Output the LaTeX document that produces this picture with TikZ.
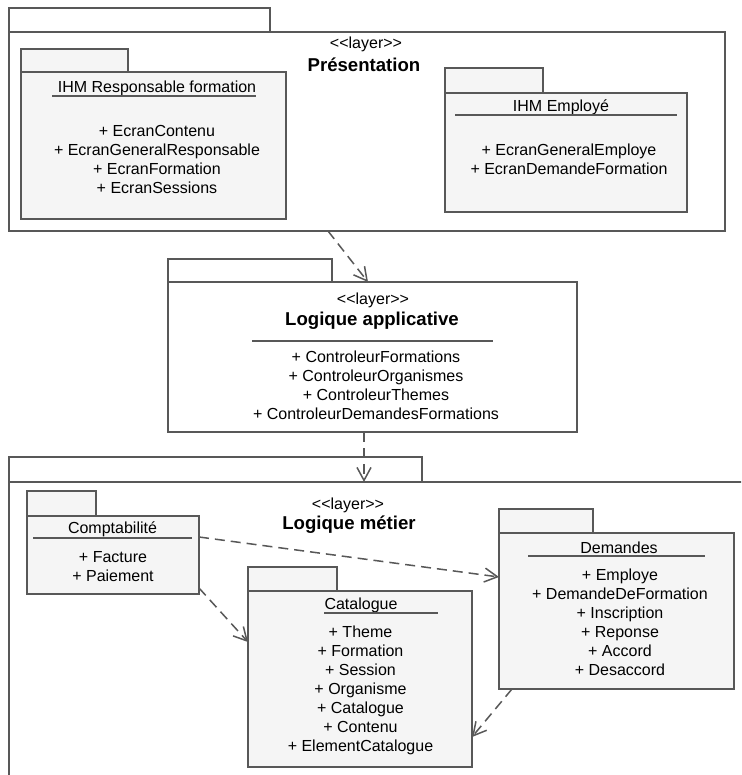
\documentclass[tikz,border=0pt]{standalone}
\usepackage{fontspec}
\setmainfont{Liberation Sans}
\usetikzlibrary{arrows.meta}
\definecolor{edge}{RGB}{88,88,88}
\definecolor{pkgfill}{RGB}{245,245,245}
\newcommand{\layerlabel}{<{}<layer>{}>}
\begin{document}
\begin{tikzpicture}[x=1pt,y=-1pt,
  every node/.style={inner sep=0pt, outer sep=0pt},
  txt/.style={font=\fontsize{16}{19}\selectfont, align=center, text=black},
  ttl/.style={font=\fontsize{18.6}{22}\selectfont\bfseries, text=black},
  pkgbase/.style={draw=edge, line width=1.5pt, rectangle, inner sep=0pt, outer sep=0pt},
  layerbody/.style={pkgbase, fill=white, anchor=north west},
  layertab/.style={pkgbase, fill=white, anchor=south west},
  pkgbody/.style={pkgbase, fill=pkgfill, anchor=north west},
  pkgtab/.style={pkgbase, fill=pkgfill, anchor=south west},
  uline/.style={draw=edge, line width=1.5pt},
  dep/.style={draw=edge, line width=1.5pt, dash pattern=on 10pt off 6pt,
    -{Straight Barb[length=13pt,width=14pt,line width=1.5pt]}}
]
\useasboundingbox (0,0) rectangle (741,775);
\clip (0,0) rectangle (741,775);
\fill[white] (0,0) rectangle (741,775);

% Presentation layer
\node[layerbody, minimum width=716pt, minimum height=199pt] (pres) at (9,32) {};
\node[layertab, minimum width=261pt, minimum height=24pt] (prestab) at (pres.north west) {};
\node[txt] (preslayer) at (366,44) {\layerlabel};
\node[ttl] (prestitle) at (364,65) {Présentation};

% IHM Responsable formation
\node[pkgbody, minimum width=265pt, minimum height=147pt] (ihmr) at (21,72) {};
\node[pkgtab, minimum width=107pt, minimum height=23pt] (ihmrtab) at (ihmr.north west) {};
\node[txt] (ihmrtitle) at (157,88) {IHM Responsable formation};
\draw[uline] (52,96) -- (256,96);
\node[txt] (ihmritems) at (157,159) {+ EcranContenu\\+ EcranGeneralResponsable\\+ EcranFormation\\+ EcranSessions};

% IHM Employe
\node[pkgbody, minimum width=242pt, minimum height=119pt] (ihme) at (445,93) {};
\node[pkgtab, minimum width=98pt, minimum height=25pt] (ihmetab) at (ihme.north west) {};
\node[txt] (ihmetitle) at (561,107) {IHM Employé};
\draw[uline] (455,115) -- (677,115);
\node[txt] (ihmeitems) at (569,159) {+ EcranGeneralEmploye\\+ EcranDemandeFormation};

% Logique applicative
\node[layerbody, minimum width=409pt, minimum height=150pt] (logapp) at (168,282) {};
\node[layertab, minimum width=164pt, minimum height=23pt] (logapptab) at (logapp.north west) {};
\node[txt] (logapplayer) at (373,300) {\layerlabel};
\node[ttl] (logapptitle) at (372,321) {Logique applicative};
\draw[uline] (252,341) -- (493,341);
\node[txt] (logappitems) at (376,385.5) {+ ControleurFormations\\+ ControleurOrganismes\\+ ControleurThemes\\+ ControleurDemandesFormations};

% Logique metier
\node[layerbody, minimum width=800pt, minimum height=400pt] (metier) at (9,482) {};
\node[layertab, minimum width=413pt, minimum height=25pt] (metiertab) at (metier.north west) {};
\node[txt] (metierlayer) at (348,505) {\layerlabel};
\node[ttl] (metiertitle) at (349,525) {Logique métier};

% Comptabilite
\node[pkgbody, minimum width=172pt, minimum height=78pt] (compta) at (27,516) {};
\node[pkgtab, minimum width=69pt, minimum height=25pt] (comptatab) at (compta.north west) {};
\node[txt] (comptatitle) at (112.5,529) {Comptabilité};
\draw[uline] (33,538) -- (192,538);
\node[txt] (comptaitems) at (113,566.5) {+ Facture\\+ Paiement};

% Catalogue
\node[pkgbody, minimum width=224pt, minimum height=176pt] (cat) at (248,591) {};
\node[pkgtab, minimum width=89pt, minimum height=24pt] (cattab) at (cat.north west) {};
\node[txt] (cattitle) at (361,605) {Catalogue};
\draw[uline] (324,613) -- (438,613);
\node[txt] (catitems) at (360.5,690.5) {+ Theme\\+ Formation\\+ Session\\+ Organisme\\+ Catalogue\\+ Contenu\\+ ElementCatalogue};

% Demandes
\node[pkgbody, minimum width=235pt, minimum height=156pt] (dem) at (499,533) {};
\node[pkgtab, minimum width=94pt, minimum height=24pt] (demtab) at (dem.north west) {};
\node[txt] (demtitle) at (619,548) {Demandes};
\draw[uline] (528,556) -- (705,556);
\node[txt] (demitems) at (620,622.5) {+ Employe\\+ DemandeDeFormation\\+ Inscription\\+ Reponse\\+ Accord\\+ Desaccord};

% Dependencies
\draw[dep] ([xshift=319pt]pres.south west) -- ([xshift=200pt]logapp.north west);
\draw[dep] ([xshift=196pt]logapp.south west) -- ([xshift=355pt]metier.north west);
\draw[dep] ([yshift=-21pt]compta.north east) -- ([yshift=-44pt]dem.north west);
\draw[dep] ([yshift=6pt]compta.south east) -- ([yshift=-51pt]cat.north west);
\draw[dep] ([xshift=13pt]dem.south west) -- ([yshift=30pt]cat.south east);
\end{tikzpicture}
\end{document}
